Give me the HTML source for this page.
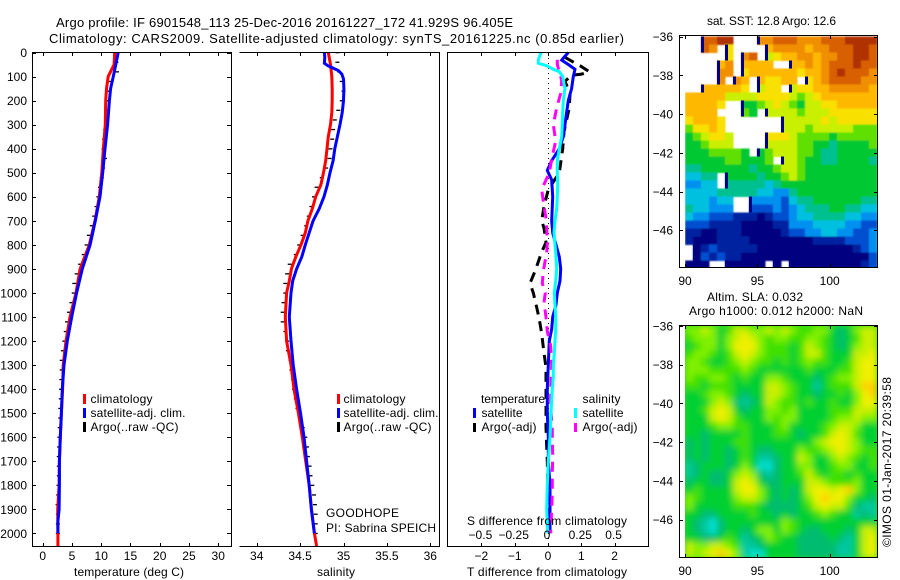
<!DOCTYPE html>
<html lang="en">
<head>
<meta charset="utf-8">
<title>Argo profile</title>
<style>
html,body{margin:0;padding:0;background:#fff;width:900px;height:580px;overflow:hidden}
svg{display:block}
text{font-family:"Liberation Sans",sans-serif;font-size:12px;fill:#000}
.big{font-size:13px}
.frame{fill:none;stroke:#000;stroke-width:1;shape-rendering:crispEdges}
</style>
</head>
<body>
<svg id="chart" width="900" height="580" viewBox="0 0 900 580" xmlns="http://www.w3.org/2000/svg">
  <defs>
    <filter id="sst-soften" filterUnits="userSpaceOnUse" x="670" y="25" width="220" height="250"><feGaussianBlur stdDeviation="0.8"/></filter>
    <filter id="sla-soften" filterUnits="userSpaceOnUse" x="670" y="315" width="220" height="250"><feGaussianBlur stdDeviation="3.2"/></filter>
    <clipPath id="sst-clip"><rect x="685" y="36" width="192" height="231"/></clipPath>
    <clipPath id="sla-clip"><rect x="685" y="326" width="192" height="231"/></clipPath>
  </defs>
  <rect width="900" height="580" fill="#fff"/>
  <g clip-path="url(#sst-clip)">
    <g id="sst-cells" filter="url(#sst-soften)"></g>
    <g id="sst-edges"></g>
  </g>
  <g clip-path="url(#sla-clip)">
    <rect x="685" y="326" width="192" height="231" fill="#30d820"/>
    <g id="sla-cells" filter="url(#sla-soften)"></g>
  </g>
  <g id="marks"></g>
  <g id="axes"></g>

  <path class="frame" d="M32.5 52.5H231.5V546.5H32.5Z"/>
  <path class="frame" d="M239.5 52.5H439.5V546.5H239.5"/>
  <path class="frame" d="M447.5 52.5H648.5V546.5H447.5Z"/>
  <path class="frame" d="M679.5 35.5H877.5V267.5H679.5Z"/>
  <path class="frame" d="M679.5 325.5H877.5V557.5H679.5Z"/>

  <text class="big" x="56" y="27" textLength="457">Argo profile: IF 6901548_113 25-Dec-2016 20161227_172 41.929S 96.405E</text>
  <text class="big" x="49" y="43" textLength="575">Climatology: CARS2009. Satellite-adjusted climatology: synTS_20161225.nc (0.85d earlier)</text>

  <text x="74" y="576" textLength="110">temperature (deg C)</text>
  <text x="317" y="576" textLength="38">salinity</text>
  <text x="467" y="576" textLength="160">T difference from climatology</text>
  <text x="467" y="525" textLength="160">S difference from climatology</text>

  <g>
    <rect x="83" y="394" width="3" height="10" fill="#f00"/>
    <text x="90.5" y="403" textLength="62">climatology</text>
    <rect x="83" y="408" width="3" height="10" fill="#00f"/>
    <text x="90.5" y="417" textLength="95">satellite-adj. clim.</text>
    <rect x="83" y="422" width="3" height="10" fill="#000"/>
    <text x="90.5" y="431" textLength="88">Argo(..raw -QC)</text>
  </g>
  <g>
    <rect x="337" y="394" width="3" height="10" fill="#f00"/>
    <text x="343.5" y="403" textLength="62">climatology</text>
    <rect x="337" y="408" width="3" height="10" fill="#00f"/>
    <text x="343.5" y="417" textLength="95">satellite-adj. clim.</text>
    <rect x="337" y="422" width="3" height="10" fill="#000"/>
    <text x="343.5" y="431" textLength="88">Argo(..raw -QC)</text>
  </g>
  <text x="326" y="517" textLength="73">GOODHOPE</text>
  <text x="326" y="532" textLength="110">PI: Sabrina SPEICH</text>

  <g>
    <text x="481" y="403" textLength="64">temperature</text>
    <rect x="473" y="408" width="3" height="10" fill="#00f"/>
    <text x="481.5" y="417" textLength="41">satellite</text>
    <rect x="473" y="423" width="3" height="9" fill="#000"/>
    <text x="481.5" y="431" textLength="55">Argo(-adj)</text>
    <text x="582.5" y="403" textLength="38">salinity</text>
    <rect x="574" y="408" width="3" height="10" fill="#0ff"/>
    <text x="582.5" y="417" textLength="41">satellite</text>
    <rect x="574" y="423" width="3" height="9" fill="#f0f"/>
    <text x="582.5" y="431" textLength="55">Argo(-adj)</text>
  </g>

  <text x="707" y="25" textLength="129">sat. SST: 12.8 Argo: 12.6</text>
  <text x="707" y="301" textLength="96">Altim. SLA: 0.032</text>
  <text x="689" y="315" textLength="174">Argo h1000: 0.012 h2000: NaN</text>
  <text transform="translate(891 547) rotate(-90)" textLength="170">©IMOS 01-Jan-2017 20:39:58</text>
</svg>
<script>
const depthTicks = [0,100,200,300,400,500,600,700,800,900,1000,1100,1200,1300,1400,1500,1600,1700,1800,1900,2000];
const tempTicks = [0,5,10,15,20,25,30];
const salTicks = [34,34.5,35,35.5,36];
const tDiffTicks = [-2,-1,0,1,2];
const sDiffTicks = [-0.5,-0.25,0,0.25,0.5];
const latTicks = [-36,-38,-40,-42,-44,-46];
const lonTicks = [90,95,100];

const climTempDepth = [0,50,100,150,200,300,400,500,600,700,800,900,1000,1100,1200,1300,1400,1500,1600,1700,1800,1900,2000,2053];
const climTemp = [12.3,12.2,11.2,10.9,10.77,10.7,10.36,10.1,9.68,8.94,7.97,6.4,5.7,4.67,3.98,3.5,3.4,3.2,3.0,2.85,2.8,2.56,2.6,2.6];
const satTempDepth = [0,50,100,150,200,300,400,500,600,700,800,900,1000,1100,1200,1300,1400,1500,1600,1700,1800,1900,1950,2000];
const satTemp = [12.9,12.5,12.07,11.6,11.4,11.1,10.65,10.25,9.8,9.0,8.1,6.77,5.8,4.95,4.2,3.64,3.35,3.2,3.0,2.85,2.85,2.8,2.6,2.6];
const argoDepth = [0,40,80,120,160,200,240,280,320,360,400,440,480,520,560,600,640,680,720,760,800,840,880,920,960,1000,1040,1080,1120,1160,1200,1240,1280,1320,1360,1400,1440,1480,1520,1560,1600,1640,1680,1720,1760,1800,1840,1880,1920,1960,2000];
const argoTemp = [12.5,12.6,12.7,11.5,11.1,11.0,10.95,10.9,10.7,10.5,10.4,10.65,10.3,10.1,9.8,9.5,9.2,8.8,8.4,7.9,7.5,7.0,6.4,5.8,5.4,5.3,4.9,4.5,4.15,3.95,3.7,3.45,3.25,3.25,3.2,3.15,3.1,3.0,3.0,2.9,2.85,2.8,2.75,2.75,2.75,2.7,2.65,2.55,2.6,2.6,2.6];
const argoSal = [34.93,34.93,34.95,34.98,35.0,34.98,34.94,34.9,34.88,34.87,34.85,34.84,34.8,34.75,34.69,34.66,34.63,34.6,34.57,34.53,34.49,34.45,34.38,34.35,34.33,34.33,34.31,34.3,34.3,34.33,34.35,34.36,34.39,34.4,34.42,34.43,34.45,34.47,34.5,34.53,34.56,34.58,34.59,34.61,34.62,34.64,34.66,34.67,34.68,34.68,34.68];

const climSalDepth = [0,50,100,150,200,250,300,350,400,450,500,550,600,650,700,750,800,850,900,950,1000,1100,1200,1300,1400,1500,1600,1700,1800,1900,2000,2053];
const climSal = [34.825,34.85,34.865,34.87,34.87,34.865,34.85,34.825,34.81,34.795,34.77,34.74,34.68,34.64,34.59,34.56,34.51,34.45,34.4,34.375,34.345,34.33,34.345,34.395,34.43,34.48,34.525,34.565,34.605,34.63,34.665,34.69];
const satSalDepth = [0,20,45,55,65,75,90,110,150,200,250,300,350,400,450,500,550,600,650,700,750,800,850,900,950,1000,1100,1200,1300,1400,1500,1600,1700,1800,1900,2000];
const satSal = [34.78,34.785,34.78,34.82,34.88,34.94,34.98,35.0,35.005,35.0,34.985,34.96,34.93,34.9,34.88,34.845,34.815,34.775,34.72,34.65,34.605,34.56,34.52,34.46,34.415,34.395,34.375,34.395,34.42,34.46,34.505,34.545,34.575,34.605,34.63,34.665];

const satTDiffDepth = [0,20,32,50,70,100,150,200,250,300,350,400,450,490,500,530,600,700,750,800,850,900,950,1000,1050,1100,1150,1200,1300,1400,1500,1600,1700,1800,1900,2000];
const satTDiff = [0.61,0.48,0.41,0.61,0.81,0.76,0.71,0.61,0.56,0.51,0.46,0.34,0.11,-0.02,0.01,0.11,0.14,0.11,0.14,0.24,0.34,0.38,0.36,0.28,0.24,0.14,0.11,0.04,0.01,-0.02,-0.02,0.01,0.01,0.06,0.06,0.06];
const satSDiffDepth = [0,30,45,55,70,80,100,130,150,200,250,300,350,400,450,500,550,600,650,700,750,800,850,900,950,1000,1050,1100,1150,1200,1250,1300,1350,1400,1500,1600,1700,1800,1900,2000];
const satSDiff = [-0.0525,-0.0725,-0.0725,-0.01,0.04,0.085,0.11,0.12,0.1275,0.115,0.11,0.1075,0.1025,0.085,0.07,0.07,0.0725,0.07,0.065,0.0525,0.045,0.0525,0.06,0.065,0.0575,0.0475,0.0525,0.0575,0.0575,0.0525,0.0475,0.04,0.04,0.0325,0.0225,0.015,0.0025,-0.005,-0.01,-0.0025];
const argoTDiffDepth = [20,40,55,80,90,95,120,170,230,330,400,430,500,570,640,700,730,790,830,910,960,1000,1060,1110,1170,1250,1310,1390,1490,1560,1640,1700,1900,2000];
const argoTDiff = [0.51,0.76,0.96,1.24,1.01,0.71,0.51,0.66,0.64,0.48,0.44,0.41,0.34,0.01,-0.12,-0.19,-0.12,-0.06,-0.19,-0.39,-0.54,-0.44,-0.34,-0.26,-0.19,-0.12,-0.06,-0.06,-0.06,-0.06,-0.04,-0.02,0.01,0.01];
const argoSDiffDepth = [30,50,100,120,170,230,300,370,430,500,570,640,690,730,790,830,910,960,1000,1040,1100,1160,1220,1300,1400,1480,1560,1600,1680,1750,1830,1900,1980,2000];
const argoSDiff = [0.07,0.07,0.095,0.1025,0.095,0.065,0.04,0.0575,0.0325,0.01,-0.0475,-0.03,-0.015,-0.01,-0.005,-0.01,-0.035,-0.0425,-0.02,-0.03,-0.015,-0.005,0.02,0.0275,0.02,0.02,0.0325,0.0325,0.035,0.0325,0.0325,0.0275,0.02,0.02];

const N = null;
const sstRows = [
[N,N,12,12,13,13,N,N,N,11,11,12,12,12,11,11,11,12,12,12,13,13,13,13],
[N,N,12,11,N,9,N,N,N,N,10,11,11,11,11,10,11,11,12,12,12,13,13,12],
[N,N,N,N,N,9,N,11,12,N,8,9,10,10,11,11,10,11,11,12,12,13,13,12],
[N,N,N,N,10,11,N,10,10,10,10,N,N,10,10,11,10,11,12,12,12,13,12,12],
[N,N,N,N,11,11,N,9,10,10,10,10,10,10,9,10,10,11,12,13,12,12,12,11],
[N,N,N,N,11,N,11,10,N,10,9,9,10,10,N,9,10,11,12,12,12,12,11,11],
[N,N,10,10,10,10,10,9,N,8,9,9,N,8,9,9,10,10,11,11,11,11,11,10],
[10,10,10,10,10,8,8,8,8,9,9,9,9,8,7,8,9,10,10,10,10,10,10,10],
[10,10,10,10,9,N,N,6,6,7,8,9,8,7,6,8,8,9,9,10,10,10,10,10],
[10,10,10,10,N,N,N,7,6,N,8,8,8,8,7,8,8,8,9,9,9,9,9,9],
[9,10,10,10,9,N,N,N,N,N,N,N,8,8,8,8,8,9,8,9,9,9,9,9],
[7,9,9,10,9,N,N,N,N,N,N,N,8,8,8,7,8,8,8,8,8,7,7,7],
[6,7,8,9,9,8,N,N,N,N,9,9,9,8,7,7,7,7,6,7,7,7,7,7],
[6,6,7,8,8,8,N,N,N,N,8,8,8,8,7,7,6,6,5,6,6,6,6,7],
[6,6,6,7,7,7,7,6,N,6,7,8,8,8,7,7,6,5,5,6,6,6,6,6],
[6,6,6,6,6,7,7,6,6,6,7,N,8,8,7,6,6,5,5,6,6,6,6,5],
[5,5,6,6,6,6,6,6,5,6,6,7,8,8,7,6,6,6,6,6,6,6,6,6],
[4,4,5,5,N,6,6,6,6,5,6,6,7,8,7,6,6,6,6,6,6,6,6,6],
[3,3,4,4,N,5,5,5,5,5,4,5,6,6,6,6,6,6,6,6,6,6,6,6],
[4,4,4,4,5,5,5,5,5,4,4,3,3,5,6,6,6,6,6,6,6,6,6,6],
[4,4,4,3,4,4,N,N,3,3,3,3,2,4,5,5,6,6,6,6,6,6,5,5],
[5,4,4,3,3,3,N,N,2,2,2,3,2,3,4,5,5,5,6,6,5,5,4,4],
[4,3,3,2,2,2,1,1,1,0,1,2,2,3,4,4,5,5,5,5,4,4,3,3],
[2,2,2,1,1,1,1,0,0,0,0,1,1,3,3,3,4,4,4,4,3,3,2,2],
[1,1,0,0,1,1,1,0,0,0,0,0,1,2,2,3,3,4,4,3,3,2,2,3],
[1,0,0,0,1,1,1,1,0,0,0,0,0,0,0,0,1,1,1,1,2,2,2,3],
[N,0,1,2,1,1,1,1,1,0,0,0,0,0,0,0,0,0,0,0,0,1,2,3],
[N,0,2,1,2,1,1,0,0,0,0,0,0,0,0,0,0,0,0,0,0,0,0,2],
[0,0,0,N,N,0,0,0,0,0,N,0,N,0,0,0,0,0,0,0,0,0,1,2]
];
const slaRows = [
[5,5,6,5,3,4,6,6,5,5,6,5,6,5,4,4,5,5,3,2,3,5,6,6],
[4,5,5,5,3,5,6,7,6,5,4,5,5,4,4,5,5,4,3,2,3,4,6,6],
[3,4,5,5,3,5,7,7,7,5,4,4,4,3,4,6,5,4,3,2,3,5,6,6],
[4,5,5,4,3,4,6,7,6,5,4,4,4,3,4,6,6,4,3,3,3,6,6,7],
[5,5,4,3,3,4,5,6,5,4,4,3,4,3,4,5,4,4,3,3,4,6,7,7],
[5,5,5,4,4,4,4,5,4,3,3,3,3,3,3,4,3,3,3,4,4,6,7,7],
[5,4,4,5,5,4,3,4,3,3,5,5,4,3,3,3,2,3,4,5,5,6,7,7],
[4,4,3,4,4,4,3,3,3,3,6,6,5,4,3,3,1,3,4,4,4,6,8,8],
[3,3,4,5,5,4,3,2,3,3,6,6,5,4,3,3,2,3,3,4,3,5,7,8],
[3,3,3,5,6,5,2,1,2,3,6,5,4,4,3,4,3,3,4,3,3,5,7,7],
[3,3,4,6,7,6,3,2,3,3,5,5,4,5,3,3,3,3,4,4,4,6,6,6],
[3,3,3,6,7,6,4,3,3,3,5,4,5,5,3,3,3,3,4,5,5,6,5,5],
[3,3,3,4,5,5,4,4,3,3,3,4,5,3,3,3,3,4,5,6,6,5,3,3],
[3,3,2,3,3,3,3,4,3,3,3,4,4,3,2,3,3,4,6,7,6,4,3,3],
[2,3,2,3,3,3,4,4,3,3,3,3,3,3,3,3,5,6,7,7,6,5,3,3],
[2,3,2,3,3,2,3,4,3,2,2,3,3,3,5,4,4,5,6,7,6,5,4,4],
[2,3,2,3,3,2,3,4,3,1,1,2,3,3,6,5,3,3,5,6,5,4,3,4],
[1,2,3,3,3,2,3,5,3,0,0,2,3,3,5,5,3,3,4,5,5,3,3,4],
[1,2,3,2,2,3,5,6,5,2,1,2,3,3,4,6,4,3,4,4,3,4,3,3],
[2,3,3,2,2,3,6,7,6,3,2,2,3,3,3,6,6,5,4,4,4,5,3,3],
[3,4,3,3,3,3,6,7,7,5,3,2,3,2,3,6,7,7,6,7,8,5,3,3],
[5,4,3,3,3,3,5,6,6,5,3,2,3,2,3,5,7,8,7,7,5,3,3,2],
[5,3,3,3,3,3,4,4,4,3,2,2,2,2,3,4,6,7,6,6,4,2,1,1],
[3,3,2,2,3,3,3,3,4,3,3,2,3,2,3,3,4,5,4,3,3,1,2,1],
[3,2,1,0,2,3,3,3,3,3,3,3,5,4,3,3,3,3,3,3,3,3,3,3],
[3,2,1,0,2,3,3,2,3,5,5,3,5,4,3,2,2,3,3,3,2,3,6,6],
[3,3,2,2,3,4,3,1,2,3,5,4,3,3,2,2,2,2,3,2,1,3,6,7],
[6,5,5,6,6,5,4,1,1,2,3,3,3,3,2,2,2,2,2,1,1,3,6,7],
[6,5,6,7,8,7,5,1,0,0,3,3,3,3,2,2,2,2,2,1,1,3,6,7]
];
const sstColors = ['#000080','#0020a0','#0050d0','#0090f0','#00c0e0','#00c090','#00c830','#60e000','#c8f000','#f8e000','#ffb800','#f09000','#d86000','#b03000'];
const slaColors = ['#00e0d0','#00c8a0','#00bc70','#00d030','#40e000','#80f000','#c8f000','#f0f000','#ffd000'];

const SVGNS = 'http://www.w3.org/2000/svg';
const marks = document.getElementById('marks');
const axes = document.getElementById('axes');

const yDepth = d => 52.5 + 0.2404 * d;
const xTemp = t => 42.7 + 5.85 * t;
const xSal = s => 256.7 + 86.8 * (s - 34);
const xTDiff = t => 548 + 33.3 * t;
const xSDiff = s => 548 + 133.2 * s;
const tickText = t => String(t).replace('-', '\u2212');

function drawLine(xs, ds, xf, color, width, name, dash) {
  const el = document.createElementNS(SVGNS, 'polyline');
  
  
  el.setAttribute('points', xs.map((v, i) => xf(v).toFixed(1) + ',' + yDepth(ds[i]).toFixed(1)).join(' '));
  el.setAttribute('fill', 'none');
  el.setAttribute('stroke', color);
  el.setAttribute('stroke-width', width);
  if (dash) el.setAttribute('stroke-dasharray', dash);
  marks.appendChild(el);
}
function drawDashes(xs, ds, xf, name) {
  xs.forEach((v, i) => {
    const el = document.createElementNS(SVGNS, 'rect');
    
    
    el.setAttribute('x', (xf(v) - 2).toFixed(1));
    el.setAttribute('y', (yDepth(ds[i]) - 0.5).toFixed(1));
    el.setAttribute('width', 4);
    el.setAttribute('height', 1.3);
    el.setAttribute('fill', '#000');
    marks.appendChild(el);
  });
}
function addTick(x1, y1, x2, y2) {
  const el = document.createElementNS(SVGNS, 'line');
  
  
  el.setAttribute('x1', x1);
  el.setAttribute('y1', y1);
  el.setAttribute('x2', x2);
  el.setAttribute('y2', y2);
  el.setAttribute('stroke', '#000');
  el.setAttribute('shape-rendering', 'crispEdges');
  axes.appendChild(el);
}
function addLabel(x, y, str, anchor) {
  const el = document.createElementNS(SVGNS, 'text');
  
  
  el.setAttribute('x', x);
  el.setAttribute('y', y);
  el.setAttribute('text-anchor', anchor);
  el.textContent = str;
  axes.appendChild(el);
}
function xAxis(ticks, xf, top, bottom, labelY) {
  ticks.forEach(t => {
    const x = Math.round(xf(t)) + 0.5;
    addTick(x, top, x, top + 3);
    addTick(x, bottom - 3, x, bottom);
    if (labelY) addLabel(xf(t), labelY, tickText(t), 'middle');
  });
}

drawDashes(argoTemp, argoDepth, xTemp, 'argo-temperature-point');
drawLine(climTemp, climTempDepth, xTemp, '#f00', 3, 'climatology-temperature-line');
drawLine(satTemp, satTempDepth, xTemp, '#00f', 3, 'satellite-temperature-line');

drawDashes(argoSal, argoDepth, xSal, 'argo-salinity-point');
drawLine(climSal, climSalDepth, xSal, '#f00', 3, 'climatology-salinity-line');
drawLine(satSal, satSalDepth, xSal, '#00f', 3, 'satellite-salinity-line');

const zeroLine = document.createElementNS(SVGNS, 'line');


zeroLine.setAttribute('x1', 548.5);
zeroLine.setAttribute('x2', 548.5);
zeroLine.setAttribute('y1', 53);
zeroLine.setAttribute('y2', 546);
zeroLine.setAttribute('stroke', '#000');
zeroLine.setAttribute('stroke-dasharray', '1 4');
marks.appendChild(zeroLine);

drawLine(argoTDiff, argoTDiffDepth, xTDiff, '#000', 3, 'argo-temperature-difference-line', '10 7');
drawLine(satTDiff, satTDiffDepth, xTDiff, '#00f', 3, 'satellite-temperature-difference-line');
drawLine(argoSDiff, argoSDiffDepth, xSDiff, '#f0f', 3, 'argo-salinity-difference-line', '10 7');
drawLine(satSDiff, satSDiffDepth, xSDiff, '#0ff', 3, 'satellite-salinity-difference-line');

depthTicks.forEach(d => {
  const y = Math.round(yDepth(d)) + 0.5;
  addTick(32, y, 36, y);
  addTick(227, y, 231, y);
  addLabel(27, yDepth(d) + 4.5, String(d), 'end');
});
xAxis(tempTicks, xTemp, 53, 546, 560);
xAxis(salTicks, xSal, 53, 546, 560);
xAxis(tDiffTicks, xTDiff, 53, 546, 560);
sDiffTicks.forEach(t => addLabel(xSDiff(t) - 1, 539, tickText(t), 'middle'));

const mapX = lon => 685 + 14.47 * (lon - 90);
const mapYs = {sst: 36.7, sla: 326};
const latScale = 19.35;
const lonStep = 8 / 14.47;
const latStep = 8 / latScale;

function drawMap(rows, colors, yTop, name, layer, edgeLayer) {
  const yf = lat => yTop + latScale * (-36 - lat);
  rows.forEach((row, r) => {
    row.forEach((v, c) => {
      if (v === null) return;
      const lat = -36 - r * latStep;
      const lon = 90 + c * lonStep;
      const el = document.createElementNS(SVGNS, 'rect');
      
      
      el.setAttribute('x', mapX(lon).toFixed(1));
      el.setAttribute('y', yf(lat).toFixed(1));
      el.setAttribute('width', 8.3);
      el.setAttribute('height', 8.3);
      el.setAttribute('fill', colors[v]);
      el.setAttribute('shape-rendering', 'crispEdges');
      layer.appendChild(el);
      if (edgeLayer && c > 0 && row[c - 1] === null) {
        const edge = document.createElementNS(SVGNS, 'rect');
        
        
        edge.setAttribute('x', mapX(lon).toFixed(1));
        edge.setAttribute('y', yf(lat).toFixed(1));
        edge.setAttribute('width', 3);
        edge.setAttribute('height', 8);
        edge.setAttribute('fill', colors[0]);
        edge.setAttribute('shape-rendering', 'crispEdges');
        edgeLayer.appendChild(edge);
      }
    });
  });
  latTicks.forEach(lat => {
    const y = Math.round(yf(lat)) + 0.5;
    addTick(680, y, 683, y);
    addTick(874, y, 877, y);
    addLabel(673, yf(lat) + 4.5, tickText(lat), 'end');
  });
}
drawMap(sstRows, sstColors, mapYs.sst, 'sst-map-cell', document.getElementById('sst-cells'), document.getElementById('sst-edges'));
drawMap(slaRows, slaColors, mapYs.sla, 'sla-map-cell', document.getElementById('sla-cells'), null);
xAxis(lonTicks, mapX, 36, 267, 285);
xAxis(lonTicks, mapX, 326, 557, 575);
</script>
</body>
</html>
